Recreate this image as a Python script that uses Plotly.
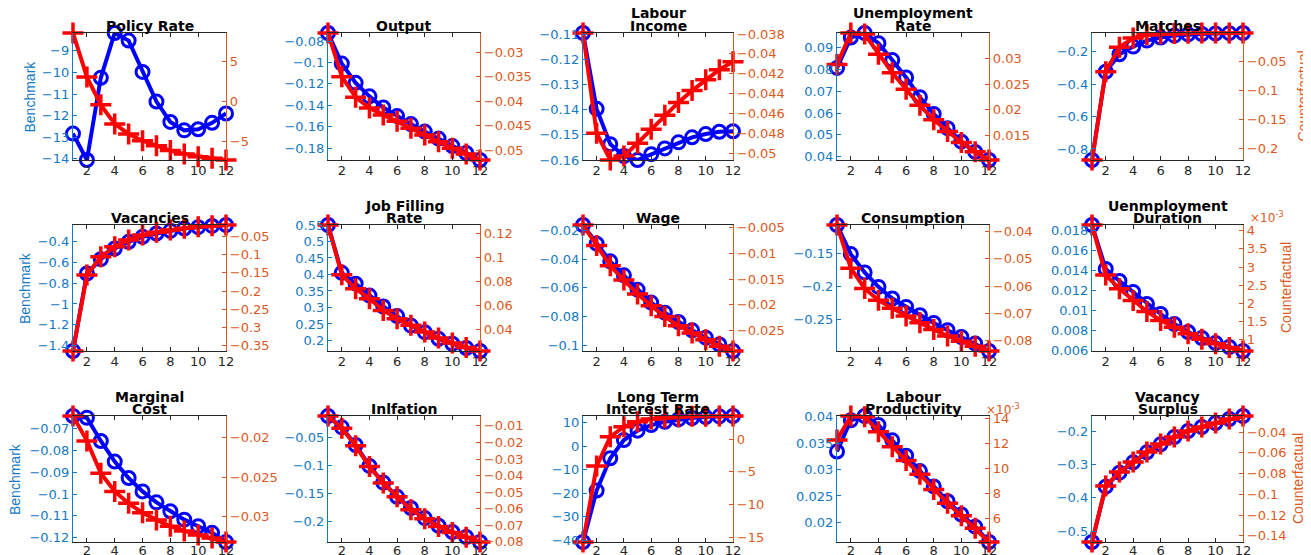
import plotly.graph_objects as go

# ---------------- data ----------------
x_periods = list(range(1, 13))
x_ticks = [2, 4, 6, 8, 10, 12]

panel_titles = ["Policy Rate", "Output", "Labour<br>Income", "Unemployment<br>Rate", "Matches",
                "Vacancies", "Job Filling<br>Rate", "Wage", "Consumption", "Uenmployment<br>Duration",
                "Marginal<br>Cost", "Inlfation", "Long Term<br>Interest Rate", "Labour<br>Productivity",
                "Vacancy<br>Surplus"]

policy_bench = [-12.83, -14.05, -10.25, -8.18, -8.53, -9.98, -11.35, -12.29, -12.68, -12.63, -12.33, -11.90]
policy_cf = [8.55, 3.05, -0.41, -2.79, -4.04, -4.88, -5.50, -6.12, -6.54, -6.87, -7.08, -7.29]

output_bench = [-0.0725, -0.101, -0.119, -0.1316, -0.142, -0.150, -0.1575, -0.1645, -0.171, -0.178, -0.1845, -0.191]
output_cf = [-0.0261, -0.0350, -0.0392, -0.0414, -0.0428, -0.0441, -0.0455, -0.0469, -0.0483, -0.0496, -0.0508, -0.0520]

labour_bench = [-0.1096, -0.1397, -0.1537, -0.1584, -0.1600, -0.1577, -0.1554, -0.1530, -0.1510, -0.1497, -0.1488, -0.1486]
labour_cf = [-0.0379, -0.0480, -0.0507, -0.0503, -0.0490, -0.0476, -0.0462, -0.0449, -0.0437, -0.0426, -0.0416, -0.0408]

unemp_bench = [0.0807, 0.0946, 0.0967, 0.0920, 0.0843, 0.0763, 0.0673, 0.0596, 0.0531, 0.0469, 0.0422, 0.0385]
unemp_cf = [0.0288, 0.0349, 0.0347, 0.0308, 0.0272, 0.0240, 0.0209, 0.0181, 0.0158, 0.0137, 0.0119, 0.0103]

matches_bench = [-0.868, -0.324, -0.216, -0.169, -0.132, -0.113, -0.101, -0.094, -0.091, -0.088, -0.086, -0.085]
matches_cf = [-0.219, -0.0675, -0.0253, -0.0097, -0.0039, -0.0025, -0.0018, -0.0014, -0.0012, -0.0011, -0.0010, -0.0010]

vac_bench = [-1.450, -0.709, -0.572, -0.470, -0.406, -0.358, -0.326, -0.301, -0.279, -0.266, -0.254, -0.245]
vac_cf = [-0.3658, -0.156, -0.1054, -0.0777, -0.0591, -0.0453, -0.0379, -0.0315, -0.0269, -0.0224, -0.0196, -0.0176]

jfr_bench = [0.550, 0.405, 0.372, 0.336, 0.303, 0.274, 0.245, 0.225, 0.205, 0.190, 0.177, 0.168]
jfr_cf = [0.1273, 0.0857, 0.0740, 0.0656, 0.0558, 0.0489, 0.0433, 0.0377, 0.0326, 0.0284, 0.0247, 0.0218]

wage_bench = [-0.0163, -0.0293, -0.0416, -0.0513, -0.0613, -0.0703, -0.0773, -0.0838, -0.0896, -0.0947, -0.0995, -0.1040]
wage_cf = [-0.0045, -0.0085, -0.0124, -0.0152, -0.0179, -0.0202, -0.0223, -0.0241, -0.0255, -0.0268, -0.0281, -0.0290]

cons_bench = [-0.107, -0.151, -0.1788, -0.2006, -0.2182, -0.2309, -0.2435, -0.2552, -0.2662, -0.2764, -0.2864, -0.2976]
cons_cf = [-0.0376, -0.0534, -0.0608, -0.0651, -0.0681, -0.0709, -0.0734, -0.0758, -0.0782, -0.0801, -0.0820, -0.0837]

dur_bench = [0.0185, 0.0141, 0.0129, 0.0118, 0.0106, 0.0096, 0.0086, 0.0078, 0.0072, 0.0067, 0.0063, 0.0059]
dur_cf_e3 = [4.157, 2.783, 2.400, 2.077, 1.775, 1.527, 1.344, 1.165, 1.008, 0.890, 0.780, 0.687]  # x 10^-3

mc_bench = [-0.0644, -0.0652, -0.0758, -0.0852, -0.0927, -0.0988, -0.1038, -0.1079, -0.1117, -0.1147, -0.1177, -0.1219]
mc_cf = [-0.01725, -0.0204, -0.0245, -0.0268, -0.0283, -0.0295, -0.0304, -0.0312, -0.0318, -0.0323, -0.0327, -0.0332]

infl_bench = [-0.0113, -0.0316, -0.0632, -0.1007, -0.1305, -0.1559, -0.1760, -0.1940, -0.2077, -0.2189, -0.2279, -0.2368]
infl_cf = [-0.0040, -0.0114, -0.0220, -0.0345, -0.0445, -0.0528, -0.0606, -0.0660, -0.0707, -0.0743, -0.0773, -0.0801]

ltr_bench = [-40.8, -18.9, -5.15, 2.64, 6.6, 9.0, 10.4, 11.4, 12.0, 12.4, 12.7, 12.85]
ltr_cf = [-15.75, -4.1, 0.4, 1.94, 2.71, 3.12, 3.32, 3.48, 3.54, 3.56, 3.57, 3.58]

prod_bench = [0.0334, 0.0393, 0.0401, 0.0384, 0.0355, 0.0326, 0.0297, 0.0268, 0.0240, 0.0215, 0.0192, 0.0163]
prod_cf_e3 = [12.24, 14.16, 14.10, 12.9, 11.7, 10.6, 9.5, 8.3, 7.2, 6.2, 5.2, 4.1]  # x 10^-3

surplus_bench = [-0.533, -0.367, -0.325, -0.294, -0.264, -0.240, -0.218, -0.200, -0.188, -0.176, -0.164, -0.155]
surplus_cf = [-0.146, -0.092, -0.0785, -0.0689, -0.0592, -0.0515, -0.0447, -0.0389, -0.0350, -0.0312, -0.0273, -0.0244]

bench_series = [policy_bench, output_bench, labour_bench, unemp_bench, matches_bench,
                vac_bench, jfr_bench, wage_bench, cons_bench, dur_bench,
                mc_bench, infl_bench, ltr_bench, prod_bench, surplus_bench]
cf_series = [policy_cf, output_cf, labour_cf, unemp_cf, matches_cf,
             vac_cf, jfr_cf, wage_cf, cons_cf, dur_cf_e3,
             mc_cf, infl_cf, ltr_cf, prod_cf_e3, surplus_cf]

# ---------------- style ----------------
left_dtick = [1, 0.02, 0.01, 0.01, 0.2, 0.2, 0.05, 0.02, 0.05, 0.002, 0.01, 0.05, 10, 0.005, 0.1]
right_dtick = [5, 0.005, 0.002, 0.005, 0.05, 0.05, 0.02, 0.005, 0.01, 0.5, 0.005, 0.01, 5, 2, 0.02]

W, H = 1311, 555
OFF = 8  # default page margin of the html body
col_px = [(73, 226), (328, 480), (583, 733), (837, 989), (1092, 1243)]
row_px = [(33, 160), (225, 351), (416, 542)]
row_label_standoff = [-2, -2, -4]


def px_x(v):
    return (v - OFF) / W


def px_y(v):
    return 1 - (v - OFF) / H


BLUE_AX = "#1479C4"
ORANGE_AX = "#DC5A22"
DARK = "#262626"
TICK_FONT = dict(family="DejaVu Sans", size=13)

fig = go.Figure()
layout = dict(template="none", width=W, height=H, margin=dict(l=0, r=0, t=0, b=0, pad=0),
              autosize=False, paper_bgcolor="white", plot_bgcolor="rgba(0,0,0,0)", showlegend=False)
annotations = []

for i in range(15):
    r, c = divmod(i, 5)
    x0, x1 = col_px[c]
    ytop, ybot = row_px[r]
    xd = [px_x(x0), px_x(x1)]
    yd = [px_y(ybot), px_y(ytop)]
    xn = "" if i == 0 else str(i + 1)
    yl = "" if i == 0 else str(2 * i + 1)
    yr = str(2 * i + 2)

    b = bench_series[i]
    cfv = cf_series[i]

    layout["xaxis" + xn] = dict(domain=xd, anchor="y" + yl, range=[1, 12], tickvals=x_ticks,
                                ticks="inside", ticklen=4, tickcolor=DARK, showline=True,
                                linecolor=DARK, linewidth=1, mirror="ticks", showgrid=False,
                                zeroline=False, automargin=False,
                                ticklabelstandoff=row_label_standoff[r],
                                tickfont=dict(color=DARK, **TICK_FONT))
    layout["yaxis" + yl] = dict(domain=yd, anchor="x" + xn, range=[min(b), max(b)],
                                dtick=left_dtick[i], tick0=0, ticks="inside", ticklen=4,
                                tickcolor=BLUE_AX, showline=True, linecolor=BLUE_AX, linewidth=1.3,
                                showgrid=False, zeroline=False, automargin=False,
                                tickfont=dict(color=BLUE_AX, **TICK_FONT))
    layout["yaxis" + yr] = dict(domain=yd, anchor="x" + xn, overlaying="y" + yl, side="right",
                                range=[min(cfv), max(cfv)], dtick=right_dtick[i], tick0=0,
                                ticks="inside", ticklen=4, tickcolor=ORANGE_AX, showline=True,
                                linecolor=ORANGE_AX, linewidth=1.3, showgrid=False, zeroline=False,
                                automargin=False, tickfont=dict(color=ORANGE_AX, **TICK_FONT))

    fig.add_trace(go.Scatter(x=x_periods, y=b, xaxis="x" + xn, yaxis="y" + yl,
                             mode="lines+markers", cliponaxis=False,
                             line=dict(color="#0000FF", width=4),
                             marker=dict(symbol="circle-open", size=13, color="#0000FF",
                                         line=dict(width=3, color="#0000FF"))))
    fig.add_trace(go.Scatter(x=x_periods, y=cfv, xaxis="x" + xn, yaxis="y" + yr,
                             mode="lines+markers", cliponaxis=False,
                             line=dict(color="#FF0000", width=4),
                             marker=dict(symbol="cross-thin-open", size=15, color="#FF0000",
                                         line=dict(width=3.5, color="#FF0000"))))

    # panel title (each line placed separately for tight line spacing)
    lines = panel_titles[i].split("<br>")
    for k, txt in enumerate(reversed(lines)):
        annotations.append(dict(text="<b>" + txt + "</b>", x=(xd[0] + xd[1]) / 2, y=yd[1],
                                xref="paper", yref="paper", xanchor="center", yanchor="middle",
                                yshift=7 + 12.5 * k, showarrow=False,
                                font=dict(family="DejaVu Sans", size=14, color="black")))

# side labels
bench_x = [29, 25, 15]
cf_x = [1302, 1286, 1298]
for r in range(3):
    ymid = px_y((row_px[r][0] + row_px[r][1]) / 2)
    annotations.append(dict(text="Benchmark", x=px_x(bench_x[r]), y=ymid, xref="paper", yref="paper",
                            textangle=-90, showarrow=False, xanchor="center", yanchor="middle",
                            font=dict(family="Liberation Sans Narrow, Liberation Sans", size=14,
                                      color=BLUE_AX)))
    annotations.append(dict(text="Counterfactual", x=px_x(cf_x[r]), y=ymid, xref="paper", yref="paper",
                            textangle=-90, showarrow=False, xanchor="center", yanchor="middle",
                            font=dict(family="Liberation Sans Narrow, Liberation Sans", size=14,
                                      color=ORANGE_AX)))

# exponent labels
for ex, ey in [(1267, 217), (1003, 409)]:
    annotations.append(dict(text="×10<sup>-3</sup>", x=px_x(ex), y=px_y(ey), xref="paper",
                            yref="paper", showarrow=False, xanchor="center", yanchor="middle",
                            font=dict(family="DejaVu Sans", size=12, color=ORANGE_AX)))

layout["annotations"] = annotations
fig.update_layout(**layout)
fig.write_html("out.html")
